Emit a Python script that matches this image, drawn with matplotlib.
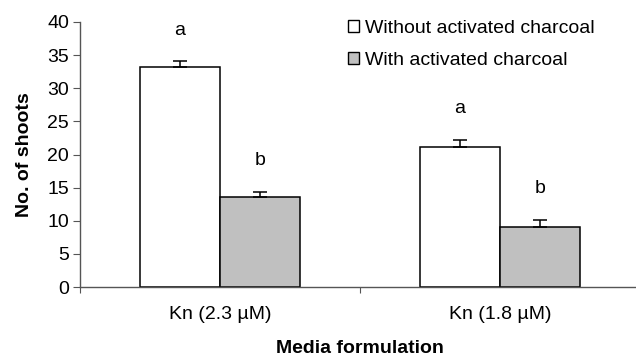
import matplotlib
matplotlib.use("Agg")
import matplotlib.pyplot as plt
from matplotlib.patches import Patch
import numpy as np

plt.rcParams['font.family'] = ['Liberation Sans', 'DejaVu Sans']

categories = ["Kn (2.3 µM)", "Kn (1.8 µM)"]
series_names = ["Without activated charcoal", "With activated charcoal"]
without_ac = [33.2, 21.1]
without_se = [0.9, 1.1]
with_ac = [13.6, 9.1]
with_se = [0.7, 1.0]
without_letters = ["a", "a"]
with_letters = ["b", "b"]

FS = 14
W, H = 636, 361
fig = plt.figure(figsize=(W / 100, H / 100), dpi=100)
ax = fig.add_axes([80 / W, 1 - 287 / H, 560 / W, 265 / H])

centers = np.arange(len(categories)) + 0.5
bw = 80 / 280

ax.bar(centers - bw / 2, without_ac, bw, color="white", edgecolor="black", linewidth=1.1, zorder=2)
ax.bar(centers + bw / 2, with_ac, bw, color="#c0c0c0", edgecolor="black", linewidth=1.1, zorder=2)
ax.errorbar(centers - bw / 2, without_ac, yerr=[np.zeros(2), without_se], fmt="none",
            ecolor="black", elinewidth=1.1, capsize=5, capthick=1.1, zorder=3)
ax.errorbar(centers + bw / 2, with_ac, yerr=[np.zeros(2), with_se], fmt="none",
            ecolor="black", elinewidth=1.1, capsize=5, capthick=1.1, zorder=3)

for i in range(len(categories)):
    ax.annotate(without_letters[i], (centers[i] - bw / 2, without_ac[i] + without_se[i]),
                xytext=(0, 31), textcoords="offset pixels", ha="center", va="center", fontsize=FS)
    ax.annotate(with_letters[i], (centers[i] + bw / 2, with_ac[i] + with_se[i]),
                xytext=(0, 32), textcoords="offset pixels", ha="center", va="center", fontsize=FS)

ax.set_xlim(0, 2)
ax.set_ylim(0, 40)
ax.set_yticks(np.arange(0, 41, 5))
ax.set_xticks([0, 1, 2])
ax.set_xticklabels([])
ax.set_xticks(centers, minor=True)
ax.set_xticklabels(categories, minor=True, fontsize=FS)
ax.tick_params(axis="x", which="minor", length=0, pad=14)
ax.tick_params(axis="x", which="major", length=4, color="#555555")
ax.tick_params(axis="y", length=5, color="#555555", labelsize=FS, pad=3)
for s in ["top", "right"]:
    ax.spines[s].set_visible(False)
for s in ["left", "bottom"]:
    ax.spines[s].set_color("#555555")
    ax.spines[s].set_linewidth(1.0)

ax.set_ylabel("No. of shoots", fontsize=FS, fontweight="bold", labelpad=10)
ax.set_xlabel("Media formulation", fontsize=FS, fontweight="bold", labelpad=12)

handles = [Patch(facecolor="white", edgecolor="black", linewidth=1.0),
           Patch(facecolor="#c0c0c0", edgecolor="black", linewidth=1.0)]
fig.legend(handles, series_names, loc="upper left", bbox_to_anchor=(348 / W, 1 - 20 / H),
           frameon=False, fontsize=FS, handlelength=0.55, handleheight=0.55,
           handletextpad=0.3, labelspacing=0.75, borderaxespad=0, borderpad=0)

fig.savefig("out.png", dpi=100)
